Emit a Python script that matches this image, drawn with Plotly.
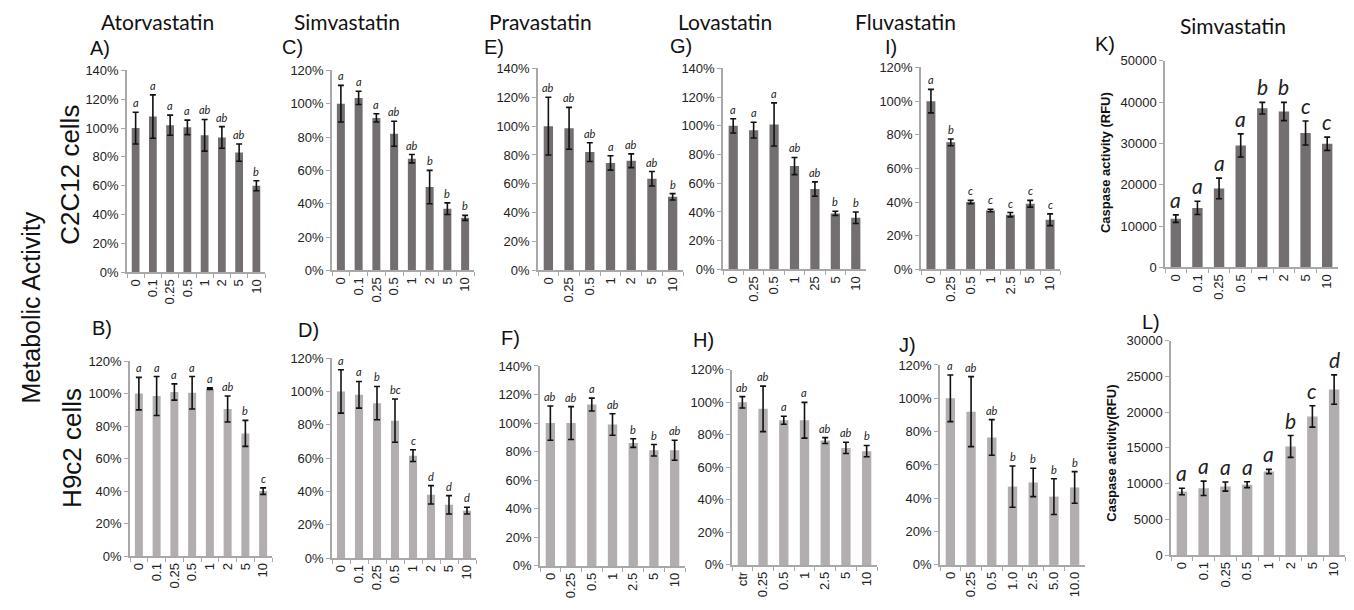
import plotly.graph_objects as go

W, H = 1354, 610
DARK = "#736e6f"
LIGHT = "#b2adae"
AXC = "#a8a8a8"

# ---------------- data ----------------
A_cats = ["0", "0.1", "0.25", "0.5", "1", "2", "5", "10"]
A_vals = [100, 108, 102, 100.5, 95, 93.5, 83, 60]
A_err = [11, 15, 7, 5, 11, 7.5, 6, 3.5]
A_sig = ["a", "a", "a", "a", "ab", "ab", "ab", "b"]

C_cats = ["0", "0.1", "0.25", "0.5", "1", "2", "5", "10"]
C_vals = [100, 103.5, 91.5, 82, 67, 50, 37, 31.5]
C_err = [11, 4, 2.5, 7.5, 2.5, 10, 3.5, 1.5]
C_sig = ["a", "a", "a", "ab", "ab", "b", "b", "b"]

E_cats = ["0", "0.25", "0.5", "1", "2", "5", "10"]
E_vals = [100, 98.5, 82, 74.5, 76, 63.5, 51]
E_err = [20, 14.5, 6.5, 5, 4.8, 5, 2.2]
E_sig = ["ab", "ab", "ab", "a", "ab", "ab", "b"]

G_cats = ["0", "0.25", "0.5", "1", "25", "5", "10"]
G_vals = [100, 97, 101, 72, 56, 39, 36]
G_err = [5, 5.5, 15, 6, 5, 1.5, 4]
G_sig = ["a", "a", "a", "ab", "ab", "b", "b"]

I_cats = ["0", "0.25", "0.5", "1", "2.5", "5", "10"]
I_vals = [100, 75.5, 40, 35, 32.5, 39, 29.5]
I_err = [7, 2, 1, 0.7, 1.3, 2, 3.5]
I_sig = ["a", "b", "c", "c", "c", "c", "c"]

K_cats = ["0", "0.1", "0.25", "0.5", "1", "2", "5", "10"]
K_vals = [11800, 14400, 19100, 29500, 38500, 37700, 32500, 29900]
K_err = [900, 1600, 2500, 2800, 1400, 2200, 2900, 1600]
K_sig = ["a", "a", "a", "a", "b", "b", "c", "c"]

B_cats = ["0", "0.1", "0.25", "0.5", "1", "2", "5", "10"]
B_vals = [100, 98.5, 101, 100.5, 103, 90.5, 75.5, 40]
B_err = [10, 12, 5, 10, 0.5, 8, 8, 2]
B_sig = ["a", "a", "a", "a", "a", "ab", "b", "c"]

D_cats = ["0", "0.1", "0.25", "0.5", "1", "2", "5", "10"]
D_vals = [100, 98, 93, 82.5, 61.5, 38, 32, 28.5]
D_err = [13, 8, 10, 13, 3.5, 5.5, 5.5, 2]
D_sig = ["a", "a", "b", "bc", "c", "d", "d", "d"]

F_cats = ["0", "0.25", "0.5", "1", "2.5", "5", "10"]
F_vals = [100, 100, 113, 99, 86, 81, 81]
F_err = [12, 11.5, 4.5, 7.5, 3, 4, 7]
F_sig = ["ab", "ab", "a", "ab", "b", "b", "ab"]

Hh_cats = ["ctr", "0.25", "0.5", "1", "2.5", "5", "10"]
Hh_vals = [100, 96, 89, 89, 76.5, 72, 70]
Hh_err = [3.5, 14, 2.5, 11, 1.8, 3.5, 3.5]
Hh_sig = ["ab", "ab", "a", "a", "ab", "ab", "b"]

J_cats = ["0", "0.25", "0.5", "1.0", "2.5", "5.0", "10.0"]
J_vals = [100, 92, 76.5, 47, 49.5, 41, 46.5]
J_err = [14, 21, 10.7, 12.4, 8.5, 10.7, 9.5]
J_sig = ["a", "ab", "ab", "b", "b", "b", "b"]

L_cats = ["0", "0.1", "0.25", "0.5", "1", "2", "5", "10"]
L_vals = [8900, 9350, 9600, 9850, 11700, 15200, 19400, 23150]
L_err = [450, 1000, 640, 410, 300, 1530, 1500, 2050]
L_sig = ["a", "a", "a", "a", "a", "b", "c", "d"]

titles = ["Atorvastatin", "Simvastatin", "Pravastatin", "Lovastatin", "Fluvastatin", "Simvastatin"]

# ---------------- layout of panels (pixel boxes: x0, x1, ytop, ybottom) ----------------
panels = [
    dict(cats=A_cats, vals=A_vals, err=A_err, sig=A_sig, box=(127, 265, 65, 272), ymax=140, step=20, pct=True, color=DARK, big=False, lab="A)", labpos=(100, 42)),
    dict(cats=C_cats, vals=C_vals, err=C_err, sig=C_sig, box=(332, 474, 65, 270), ymax=120, step=20, pct=True, color=DARK, big=False, lab="C)", labpos=(292, 41)),
    dict(cats=E_cats, vals=E_vals, err=E_err, sig=E_sig, box=(538, 683, 63, 270), ymax=140, step=20, pct=True, color=DARK, big=False, lab="E)", labpos=(494, 41)),
    dict(cats=G_cats, vals=G_vals, err=G_err, sig=G_sig, box=(723, 866, 63, 269), ymax=140, step=20, pct=True, color=DARK, big=False, lab="G)", labpos=(681, 40)),
    dict(cats=I_cats, vals=I_vals, err=I_err, sig=I_sig, box=(921, 1060, 62, 269), ymax=120, step=20, pct=True, color=DARK, big=False, lab="I)", labpos=(891, 41)),
    dict(cats=K_cats, vals=K_vals, err=K_err, sig=K_sig, box=(1165, 1338, 55, 267), ymax=50000, step=10000, pct=False, color=DARK, big=True, lab="K)", labpos=(1105, 38)),
    dict(cats=B_cats, vals=B_vals, err=B_err, sig=B_sig, box=(130, 272, 363, 563), ymax=120, step=20, pct=True, color=LIGHT, big=False, lab="B)", labpos=(102, 329)),
    dict(cats=D_cats, vals=D_vals, err=D_err, sig=D_sig, box=(332, 476, 360, 565), ymax=120, step=20, pct=True, color=LIGHT, big=False, lab="D)", labpos=(308, 331)),
    dict(cats=F_cats, vals=F_vals, err=F_err, sig=F_sig, box=(540, 685, 368, 573), ymax=140, step=20, pct=True, color=LIGHT, big=False, lab="F)", labpos=(511, 339)),
    dict(cats=Hh_cats, vals=Hh_vals, err=Hh_err, sig=Hh_sig, box=(732, 877, 372, 572), ymax=120, step=20, pct=True, color=LIGHT, big=False, lab="H)", labpos=(704, 341)),
    dict(cats=J_cats, vals=J_vals, err=J_err, sig=J_sig, box=(940, 1085, 367, 572), ymax=120, step=20, pct=True, color=LIGHT, big=False, lab="J)", labpos=(907, 347)),
    dict(cats=L_cats, vals=L_vals, err=L_err, sig=L_sig, box=(1171, 1345, 342, 562), ymax=30000, step=5000, pct=False, color=LIGHT, big=True, lab="L)", labpos=(1151, 323)),
]

fig = go.Figure()
annotations = []
TICKFONT = dict(family="Liberation Sans, Arial, sans-serif", size=13, color="#222")

for i, p in enumerate(panels, start=1):
    sfx = "" if i == 1 else str(i)
    xa, ya = "x" + sfx, "y" + sfx
    x0, x1, yt, yb = p["box"]
    n = len(p["cats"])
    fig.add_trace(go.Bar(
        x=p["cats"], y=p["vals"], xaxis=xa, yaxis=ya,
        marker=dict(color=p["color"], line=dict(width=0)),
        width=0.45 if not p["big"] else 0.48,
        error_y=dict(type="data", array=p["err"], visible=True, color="#111", thickness=1.6, width=3),
        showlegend=False, hoverinfo="skip",
    ))
    tickvals = list(range(0, p["ymax"] + 1, p["step"]))
    ticktext = [f"{v}%" if p["pct"] else f"{v}" for v in tickvals]
    fig.layout["xaxis" + sfx] = dict(
        domain=[x0 / W, x1 / W], anchor=ya, type="category",
        range=[-0.5, n - 0.5], tickangle=-90, tickson="boundaries",
        ticks="outside", ticklen=4, tickcolor=AXC, showline=True, linecolor=AXC, linewidth=1.5,
        showgrid=False, zeroline=False, tickfont=TICKFONT, fixedrange=True,
    )
    fig.layout["yaxis" + sfx] = dict(
        domain=[1 - yb / H, 1 - yt / H], anchor=xa, range=[0, p["ymax"]],
        tickvals=tickvals, ticktext=ticktext, ticks="outside", ticklen=4, tickcolor=AXC,
        showline=True, linecolor=AXC, linewidth=1.5, showgrid=False, zeroline=False,
        tickfont=TICKFONT, fixedrange=True,
    )
    for k, (v, e, s) in enumerate(zip(p["vals"], p["err"], p["sig"])):
        annotations.append(dict(
            x=k, y=v + e, xref=xa, yref=ya, text=f"<i>{s}</i>", showarrow=False,
            xanchor="center", yanchor="bottom", yshift=1,
            font=dict(family="Lato, sans-serif", size=21 if p["big"] else 11, color="#222"),
        ))
    annotations.append(dict(
        x=p["labpos"][0] / W, y=1 - p["labpos"][1] / H, xref="paper", yref="paper",
        text=p["lab"], showarrow=False, xanchor="center", yanchor="middle",
        font=dict(family="Liberation Sans, Arial, sans-serif", size=20, color="#111"),
    ))

# column titles
title_pos = [(157, 15), (347, 15), (540, 15), (725, 15), (905, 15), (1233, 19)]
for t, (tx, ty) in zip(titles, title_pos):
    annotations.append(dict(
        x=tx / W, y=1 - ty / H, xref="paper", yref="paper", text=t, showarrow=False,
        xanchor="center", yanchor="middle",
        font=dict(family="Lato, sans-serif", size=21, color="#111"),
    ))

# side labels
side = [("Metabolic Activity", 31, 308, 25), ("C2C12 cells", 70, 172, 26), ("H9c2 cells", 72, 452, 26)]
for t, sx, sy, fs in side:
    annotations.append(dict(
        x=sx / W, y=1 - sy / H, xref="paper", yref="paper", text=t, showarrow=False,
        textangle=-90, xanchor="center", yanchor="middle",
        font=dict(family="Liberation Sans, Arial, sans-serif", size=fs, color="#111"),
    ))

# caspase axis titles
for t, sx, sy in [("Caspase activity (RFU)", 1105, 160), ("Caspase activity(RFU)", 1112, 458)]:
    annotations.append(dict(
        x=sx / W, y=1 - sy / H, xref="paper", yref="paper", text=f"<b>{t}</b>", showarrow=False,
        textangle=-90, xanchor="center", yanchor="middle",
        font=dict(family="Liberation Sans, Arial, sans-serif", size=13, color="#111"),
    ))

fig.update_layout(
    width=W, height=H, margin=dict(l=0, r=0, t=0, b=0),
    paper_bgcolor="white", plot_bgcolor="white",
    annotations=annotations, showlegend=False,
)

fig.write_html(
    "out.html",
    config={"displayModeBar": False},
    post_script="document.body.style.margin='0';document.body.style.overflow='hidden';",
)
